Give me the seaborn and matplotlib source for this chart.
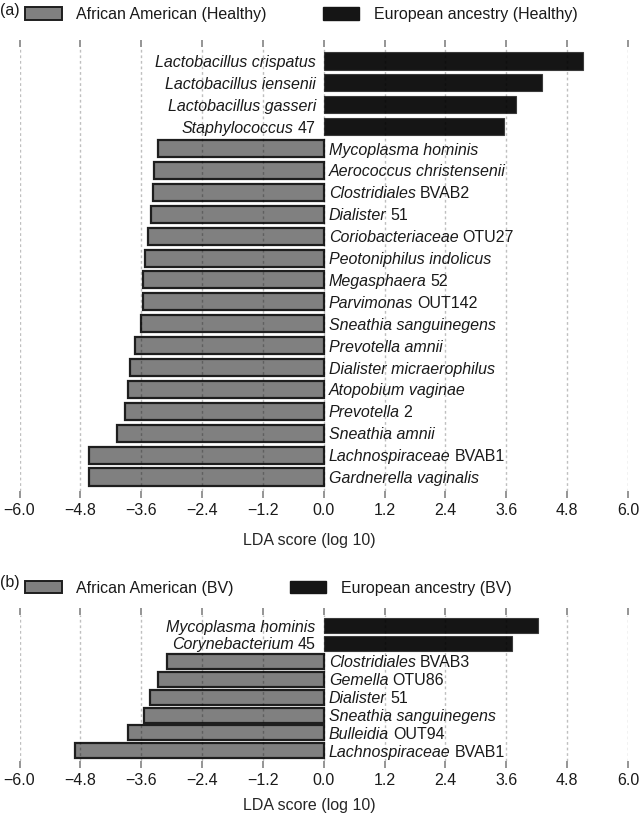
import matplotlib
matplotlib.use("Agg")
import matplotlib.pyplot as plt
from matplotlib.patches import Patch
import pandas as pd
import seaborn as sns

# Painel (a): indivíduos saudáveis
taxa_a = [
    "Lactobacillus crispatus", "Lactobacillus iensenii", "Lactobacillus gasseri",
    "Staphylococcus 47", "Mycoplasma hominis", "Aerococcus christensenii",
    "Clostridiales BVAB2", "Dialister 51", "Coriobacteriaceae OTU27",
    "Peotoniphilus indolicus", "Megasphaera 52", "Parvimonas OUT142",
    "Sneathia sanguinegens", "Prevotella amnii", "Dialister micraerophilus",
    "Atopobium vaginae", "Prevotella 2", "Sneathia amnii",
    "Lachnospiraceae BVAB1", "Gardnerella vaginalis",
]
lda_a = [5.12, 4.30, 3.79, 3.55, -3.26, -3.34, -3.37, -3.40, -3.46, -3.53,
         -3.57, -3.57, -3.60, -3.73, -3.83, -3.86, -3.91, -4.07, -4.62, -4.62]
grupos_a = ["African American (Healthy)", "European ancestry (Healthy)"]

# Painel (b): BV
taxa_b = [
    "Mycoplasma hominis", "Corynebacterium 45", "Clostridiales BVAB3",
    "Gemella OTU86", "Dialister 51", "Sneathia sanguinegens",
    "Bulleidia OUT94", "Lachnospiraceae BVAB1",
]
lda_b = [4.22, 3.71, -3.10, -3.26, -3.42, -3.54, -3.86, -4.90]
grupos_b = ["African American (BV)", "European ancestry (BV)"]

ticks = [-6.0, -4.8, -3.6, -2.4, -1.2, 0.0, 1.2, 2.4, 3.6, 4.8, 6.0]

CINZA = "#808080"
PRETO = "#151515"
FS = 11.5
W, H = 639, 818

sns.set_theme(style="white")
plt.rcParams["font.family"] = ["Liberation Sans", "DejaVu Sans"]
plt.rcParams["font.size"] = FS
plt.rcParams["text.color"] = "#1a1a1a"


# Rótulo com a parte do gênero/espécie em itálico e o código em texto normal
def rotulo(ax, y, nome, valor):
    palavras = nome.split()
    ital = " ".join(p for p in palavras if not any(c.isdigit() for c in p))
    reto = " ".join(p for p in palavras if any(c.isdigit() for c in p))
    if valor < 0:
        t1 = ax.annotate(ital, xy=(0, y), xytext=(5, 0), textcoords="offset pixels",
                         ha="left", va="center_baseline", style="italic", fontsize=FS)
        if reto:
            ax.annotate(reto, xy=(1, y), xycoords=(t1, "data"), xytext=(4, 0),
                        textcoords="offset pixels", ha="left", va="center_baseline",
                        fontsize=FS)
    else:
        if reto:
            t2 = ax.annotate(reto, xy=(0, y), xytext=(-8, 0), textcoords="offset pixels",
                             ha="right", va="center_baseline", fontsize=FS)
            ax.annotate(ital, xy=(0, y), xycoords=(t2, "data"), xytext=(-4, 0),
                        textcoords="offset pixels", ha="right", va="center_baseline",
                        style="italic", fontsize=FS)
        else:
            ax.annotate(ital, xy=(0, y), xytext=(-8, 0), textcoords="offset pixels",
                        ha="right", va="center_baseline", style="italic", fontsize=FS)


def painel(ax, taxa, lda, grupos, largura, ylim, xlabel_y, letra, y_letra, y_leg):
    df = pd.DataFrame({"taxon": taxa, "lda": lda})
    df["grupo"] = [grupos[0] if v < 0 else grupos[1] for v in lda]
    sns.barplot(data=df, x="lda", y="taxon", hue="grupo", order=taxa,
                palette={grupos[0]: CINZA, grupos[1]: PRETO}, dodge=False,
                width=largura, legend=False, ax=ax)
    for p in ax.patches:
        if p.get_facecolor()[0] > 0.3:
            p.set_edgecolor("#1e1e1e")
            p.set_linewidth(1.6)
        else:
            p.set_edgecolor("#3a3a3a")
            p.set_linewidth(0.8)

    for i, (nome, v) in enumerate(zip(taxa, lda)):
        rotulo(ax, i, nome, v)

    ax.set_xlim(-6, 6)
    ax.set_ylim(*ylim)
    ax.set_yticks([])
    ax.set_ylabel("")
    ax.set_xticks(ticks)
    ax.set_xticklabels([f"{t:.1f}".replace("-", "\u2212") for t in ticks],
                       fontsize=FS, color="#1a1a1a")
    ax.tick_params(axis="x", top=True, bottom=True, labeltop=False, direction="out",
                   length=5, width=1.3, color="#8c8c8c", pad=3.5)
    ax.set_axisbelow(False)
    ax.grid(axis="x", color="black", alpha=0.25, linestyle=(0, (2, 2)), linewidth=1)
    sns.despine(ax=ax, left=True, bottom=True)
    ax.set_xlabel("LDA score (log 10)", fontsize=FS, va="center")
    ax.xaxis.set_label_coords(0.4766, xlabel_y)

    fig = ax.figure
    fig.text(0.0, 1 - y_letra / H, letra, ha="left", va="center", fontsize=FS)
    alcas = [Patch(facecolor=CINZA, edgecolor="#1e1e1e", linewidth=1.4),
             Patch(facecolor=PRETO, edgecolor=PRETO, linewidth=1.0)]
    fig.legend(alcas, grupos, loc="center left", bbox_to_anchor=(25 / W, 1 - y_leg / H),
               ncol=2, frameon=False, borderpad=0, borderaxespad=0,
               handlelength=2.3, handleheight=0.8, handletextpad=0.9,
               columnspacing=3.5, fontsize=FS)


fig = plt.figure(figsize=(W / 100, H / 100), dpi=100)
esq, larg = 19.5 / W, 608.5 / W
ax_a = fig.add_axes([esq, 1 - 491 / H, larg, (491 - 47) / H])
ax_b = fig.add_axes([esq, 1 - 761 / H, larg, (761 - 615) / H])

painel(ax_a, taxa_a, lda_a, grupos_a, 0.78, (19.64, -0.64), -0.112, "(a)", 11, 14.5)
painel(ax_b, taxa_b, lda_b, grupos_b, 0.84, (7.57, -0.59), -0.308, "(b)", 583, 588)

fig.savefig("out.png", dpi=100)
